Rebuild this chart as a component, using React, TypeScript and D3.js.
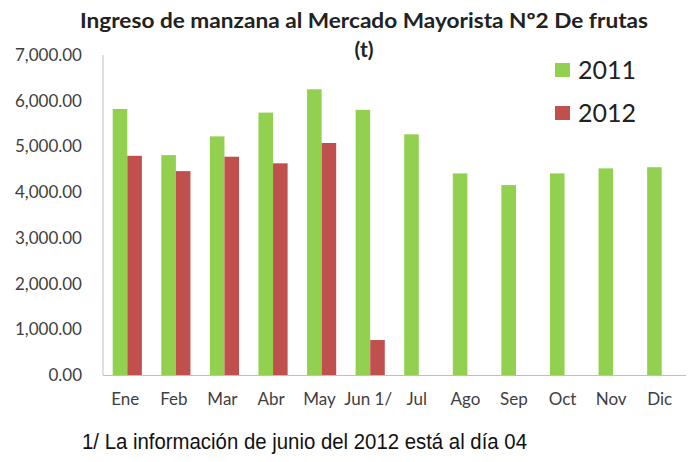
import React from "react";
import * as d3 from "d3";

const months = ["Ene", "Feb", "Mar", "Abr", "May", "Jun 1/", "Jul", "Ago", "Sep", "Oct", "Nov", "Dic"];
const series2011 = [5820, 4810, 5220, 5740, 6250, 5800, 5265, 4410, 4155, 4410, 4520, 4545];
const series2012: (number | null)[] = [4795, 4460, 4775, 4630, 5075, 765, null, null, null, null, null, null];
const yTicks = [0, 1000, 2000, 3000, 4000, 5000, 6000, 7000];
const seriesNames = ["2011", "2012"];
const colors = ["#92D050", "#C0504D"];

export default function App() {
  const W = 691, H = 462;
  const left = 103, right = 686, top = 55, bottom = 375;
  const x = d3.scaleBand<string>().domain(months).range([left, right]).paddingInner(0.4).paddingOuter(0.2);
  const xs = d3.scaleBand<string>().domain(seriesNames).range([0, x.bandwidth()]);
  const y = d3.scaleLinear().domain([0, 7000]).range([bottom, top]);
  const fmt = d3.format(",.2f");
  const data = [series2011, series2012];
  const font = "Lato, 'Open Sans', sans-serif";

  return (
    <svg width={W} height={H} style={{ position: "absolute", left: 0, top: 0, background: "#fff" }}>
      <text x={364} y={28} textAnchor="middle" fontFamily={font} fontWeight="bold" fontSize={21} fill="#222" textLength={568} lengthAdjust="spacingAndGlyphs">
        Ingreso de manzana al Mercado Mayorista Nº2 De frutas
      </text>
      <text x={364} y={57} textAnchor="middle" fontFamily={font} fontWeight="bold" fontSize={21} fill="#222">(t)</text>

      {yTicks.map((t) => (
        <text key={t} x={82} y={y(t)} dy="0.35em" textAnchor="end" fontFamily={font} fontSize={17} fill="#404040">
          {fmt(t)}
        </text>
      ))}

      {data.map((s, si) =>
        s.map((v, i) =>
          v == null ? null : (
            <rect key={`${si}-${i}`} x={(x(months[i]) as number) + (xs(seriesNames[si]) as number)} y={y(v)} width={xs.bandwidth()} height={y(0) - y(v)} fill={colors[si]} />
          )
        )
      )}

      <line x1={left} x2={left} y1={top} y2={bottom} stroke="#BFBFBF" strokeWidth={1} />
      <line x1={left} x2={right} y1={bottom + 0.5} y2={bottom + 0.5} stroke="#BFBFBF" strokeWidth={1} />

      {months.map((m) => (
        <text key={m} x={(x(m) as number) + x.bandwidth() / 2 - 2} y={405} textAnchor="middle" fontFamily={font} fontSize={17} fill="#404040">
          {m}
        </text>
      ))}

      {seriesNames.map((n, i) => (
        <g key={n} transform={`translate(555, ${63 + i * 43})`}>
          <rect x={0} y={0} width={15} height={14} fill={colors[i]} />
          <text x={23} y={7} dy="0.35em" fontFamily={font} fontSize={25} fill="#222">{n}</text>
        </g>
      ))}

      <text x={82} y={449} fontFamily="'Liberation Sans Narrow', 'Liberation Sans', Arial, sans-serif" fontSize={22} fill="#111" textLength={445} lengthAdjust="spacingAndGlyphs">
        1/ La información de junio del 2012 está al día 04
      </text>
    </svg>
  );
}
